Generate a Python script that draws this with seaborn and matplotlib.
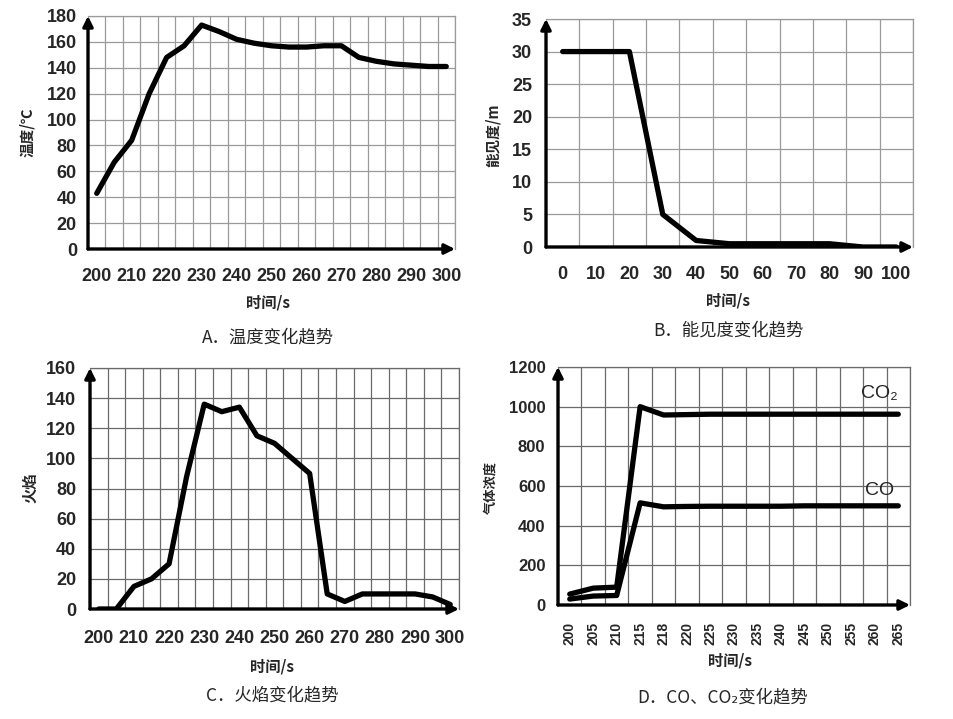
import numpy as np
import pandas as pd
import matplotlib
matplotlib.use("Agg")
import matplotlib.pyplot as plt
import seaborn as sns

sns.set_theme(style="white")
plt.rcParams['font.family'] = ['Noto Sans CJK SC', 'DejaVu Sans']
plt.rcParams['axes.unicode_minus'] = False

# ---------------- data ----------------
temp_time = [200, 205, 210, 215, 220, 225, 230, 235, 240, 245, 250,
             255, 260, 265, 270, 275, 280, 285, 290, 295, 300]
temp_vals = [43, 67, 84, 120, 148, 157, 173, 168, 162, 159, 157,
             156, 156, 157, 157, 148, 145, 143, 142, 141, 141]

vis_time = [0, 10, 20, 30, 40, 50, 60, 70, 80, 90, 100]
vis_vals = [30, 30, 30, 5, 1, 0.5, 0.5, 0.5, 0.5, 0, 0]

flame_time = [200, 205, 210, 215, 220, 225, 230, 235, 240, 245, 250,
              255, 260, 265, 270, 275, 280, 285, 290, 295, 300]
flame_vals = [0, 0, 15, 20, 30, 88, 136, 131, 134, 115, 110,
              100, 90, 10, 5, 10, 10, 10, 10, 8, 3]

gas_time_labels = ['200', '205', '210', '215', '218', '220', '225', '230',
                   '235', '240', '245', '250', '255', '260', '265']
co2_vals = [55, 85, 90, 1000, 958, 960, 962, 962, 962, 962, 962, 962, 962, 962, 962]
co_vals = [30, 45, 48, 515, 495, 497, 498, 498, 498, 498, 500, 500, 500, 500, 500]

temp_yticks = list(range(0, 181, 20))
vis_yticks = list(range(0, 36, 5))
flame_yticks = list(range(0, 161, 20))
gas_yticks = list(range(0, 1201, 200))
ab_xticks_A = list(range(200, 301, 10))
xticks_B = list(range(0, 101, 10))

W, H = 954, 719
fig = plt.figure(figsize=(W / 100, H / 100), dpi=100)
fig.patch.set_facecolor('white')


def rect(l, r, t, b):
    return [l / W, 1 - b / H, (r - l) / W, (b - t) / H]


def fxy(x, y):
    return x / W, 1 - y / H


TICKFONT = dict(family=['Liberation Sans', 'DejaVu Sans'], weight='bold')
LINE_KW = dict(color='black', linewidth=3.8)


def style_axes(ax, gridcolor):
    ax.set_facecolor('white')
    for s in ['top', 'right']:
        ax.spines[s].set_color(gridcolor)
        ax.spines[s].set_linewidth(0.9)
    for s in ['left', 'bottom']:
        ax.spines[s].set_visible(False)
    ax.tick_params(axis='both', which='both', length=0)
    ax.grid(False)
    ax.annotate('', xy=(0, 1.0), xytext=(0, 0), xycoords='axes fraction',
                arrowprops=dict(arrowstyle='-|>', color='black', lw=2.4,
                                mutation_scale=15, shrinkA=0, shrinkB=0))
    ax.annotate('', xy=(1.0, 0), xytext=(0, 0), xycoords='axes fraction',
                arrowprops=dict(arrowstyle='-|>', color='black', lw=2.4,
                                mutation_scale=15, shrinkA=0, shrinkB=0))


# ---------------- Panel A ----------------
axA = fig.add_axes(rect(88, 455, 16, 249))
dfA = pd.DataFrame({'t': temp_time, 'v': temp_vals})
sns.lineplot(data=dfA, x='t', y='v', ax=axA, sort=False, **LINE_KW)
axA.set_xlim(197.5, 302.5)
axA.set_ylim(0, 180)
axA.set_xticks(ab_xticks_A)
axA.set_xticks(np.arange(197.5, 303, 5), minor=True)
axA.set_yticks(temp_yticks)
style_axes(axA, '#9a9a9a')
axA.xaxis.grid(True, which='minor', color='#9a9a9a', lw=0.9)
axA.yaxis.grid(True, which='major', color='#9a9a9a', lw=0.9)
axA.set_xticklabels([str(v) for v in ab_xticks_A], fontsize=13, **TICKFONT)
axA.set_yticklabels([str(v) for v in temp_yticks], fontsize=13, **TICKFONT)
axA.tick_params(axis='x', pad=14)
axA.tick_params(axis='y', pad=8)
axA.set_xlabel('时间/s', fontsize=11, fontweight='bold', va='center')
axA.xaxis.set_label_coords(*fxy(268, 303), transform=fig.transFigure)
axA.set_ylabel('温度/℃', fontsize=10.5, fontweight='bold', va='center')
axA.yaxis.set_label_coords(*fxy(27, 132), transform=fig.transFigure)
fig.text(*fxy(268, 337), 'A．温度变化趋势', ha='center', va='center', fontsize=12.5)

# ---------------- Panel B ----------------
axB = fig.add_axes(rect(546, 913, 19, 247))
dfB = pd.DataFrame({'t': vis_time, 'v': vis_vals})
sns.lineplot(data=dfB, x='t', y='v', ax=axB, sort=False, **LINE_KW)
axB.set_xlim(-5, 105)
axB.set_ylim(0, 35)
axB.set_xticks(xticks_B)
axB.set_xticks(np.arange(-5, 106, 10), minor=True)
axB.set_yticks(vis_yticks)
style_axes(axB, '#9a9a9a')
axB.xaxis.grid(True, which='minor', color='#9a9a9a', lw=0.9)
axB.yaxis.grid(True, which='major', color='#9a9a9a', lw=0.9)
axB.set_xticklabels([str(v) for v in xticks_B], fontsize=13, **TICKFONT)
axB.set_yticklabels([str(v) for v in vis_yticks], fontsize=13, **TICKFONT)
axB.tick_params(axis='x', pad=14)
axB.tick_params(axis='y', pad=10)
axB.set_xlabel('时间/s', fontsize=11, fontweight='bold', va='center')
axB.xaxis.set_label_coords(*fxy(728, 300), transform=fig.transFigure)
axB.set_ylabel('能见度/m', fontsize=10.5, fontweight='bold', va='center')
axB.yaxis.set_label_coords(*fxy(493, 135), transform=fig.transFigure)
fig.text(*fxy(728, 330), 'B．能见度变化趋势', ha='center', va='center', fontsize=12.5)

# ---------------- Panel C ----------------
axC = fig.add_axes(rect(90, 459, 368, 609))
dfC = pd.DataFrame({'t': flame_time, 'v': flame_vals})
sns.lineplot(data=dfC, x='t', y='v', ax=axC, sort=False, **LINE_KW)
axC.set_xlim(197.5, 302.5)
axC.set_ylim(0, 160)
axC.set_xticks(ab_xticks_A)
axC.set_xticks(np.arange(197.5, 303, 5), minor=True)
axC.set_yticks(flame_yticks)
style_axes(axC, '#6a6a6a')
axC.xaxis.grid(True, which='minor', color='#6a6a6a', lw=0.9)
axC.yaxis.grid(True, which='major', color='#6a6a6a', lw=0.9)
axC.set_xticklabels([str(v) for v in ab_xticks_A], fontsize=13, **TICKFONT)
axC.set_yticklabels([str(v) for v in flame_yticks], fontsize=13, **TICKFONT)
axC.tick_params(axis='x', pad=15)
axC.tick_params(axis='y', pad=10)
axC.set_xlabel('时间/s', fontsize=11, fontweight='bold', va='center')
axC.xaxis.set_label_coords(*fxy(272, 667), transform=fig.transFigure)
axC.set_ylabel('火焰', fontsize=11, fontweight='bold', va='center')
axC.yaxis.set_label_coords(*fxy(30, 488), transform=fig.transFigure)
fig.text(*fxy(272, 695), 'C．火焰变化趋势', ha='center', va='center', fontsize=12.5)

# ---------------- Panel D ----------------
axD = fig.add_axes(rect(558, 910, 367, 605))
idx = list(range(len(gas_time_labels)))
dfD = pd.DataFrame({'i': idx + idx,
                    'v': co2_vals + co_vals,
                    'gas': ['CO2'] * len(idx) + ['CO'] * len(idx)})
sns.lineplot(data=dfD, x='i', y='v', units='gas', estimator=None, ax=axD,
             sort=False, **LINE_KW)
axD.set_xlim(-0.5, len(idx) - 0.5)
axD.set_ylim(0, 1200)
axD.set_xticks(idx)
axD.set_xticks(np.arange(-0.5, len(idx), 1), minor=True)
axD.set_yticks(gas_yticks)
style_axes(axD, '#6a6a6a')
axD.xaxis.grid(True, which='minor', color='#6a6a6a', lw=0.9)
axD.yaxis.grid(True, which='major', color='#6a6a6a', lw=0.9)
axD.set_xticklabels(gas_time_labels, fontsize=10, rotation=90, **TICKFONT)
axD.set_yticklabels([str(v) for v in gas_yticks], fontsize=12, **TICKFONT)
axD.tick_params(axis='x', pad=12)
axD.tick_params(axis='y', pad=9)
axD.set_xlabel('时间/s', fontsize=11, fontweight='bold', va='center')
axD.xaxis.set_label_coords(*fxy(730, 660), transform=fig.transFigure)
axD.set_ylabel('气体浓度', fontsize=9.5, fontweight='bold', va='center')
axD.yaxis.set_label_coords(*fxy(490, 487), transform=fig.transFigure)
axD.text(13.2, 1065, 'CO₂', fontsize=14, ha='center', va='center',
         family=['Liberation Sans', 'DejaVu Sans'])
axD.text(13.2, 578, 'CO', fontsize=14, ha='center', va='center',
         family=['Liberation Sans', 'DejaVu Sans'])
fig.text(*fxy(723, 697), 'D．CO、CO₂变化趋势', ha='center', va='center', fontsize=12.5)

fig.savefig('out.png', dpi=100, facecolor='white')
